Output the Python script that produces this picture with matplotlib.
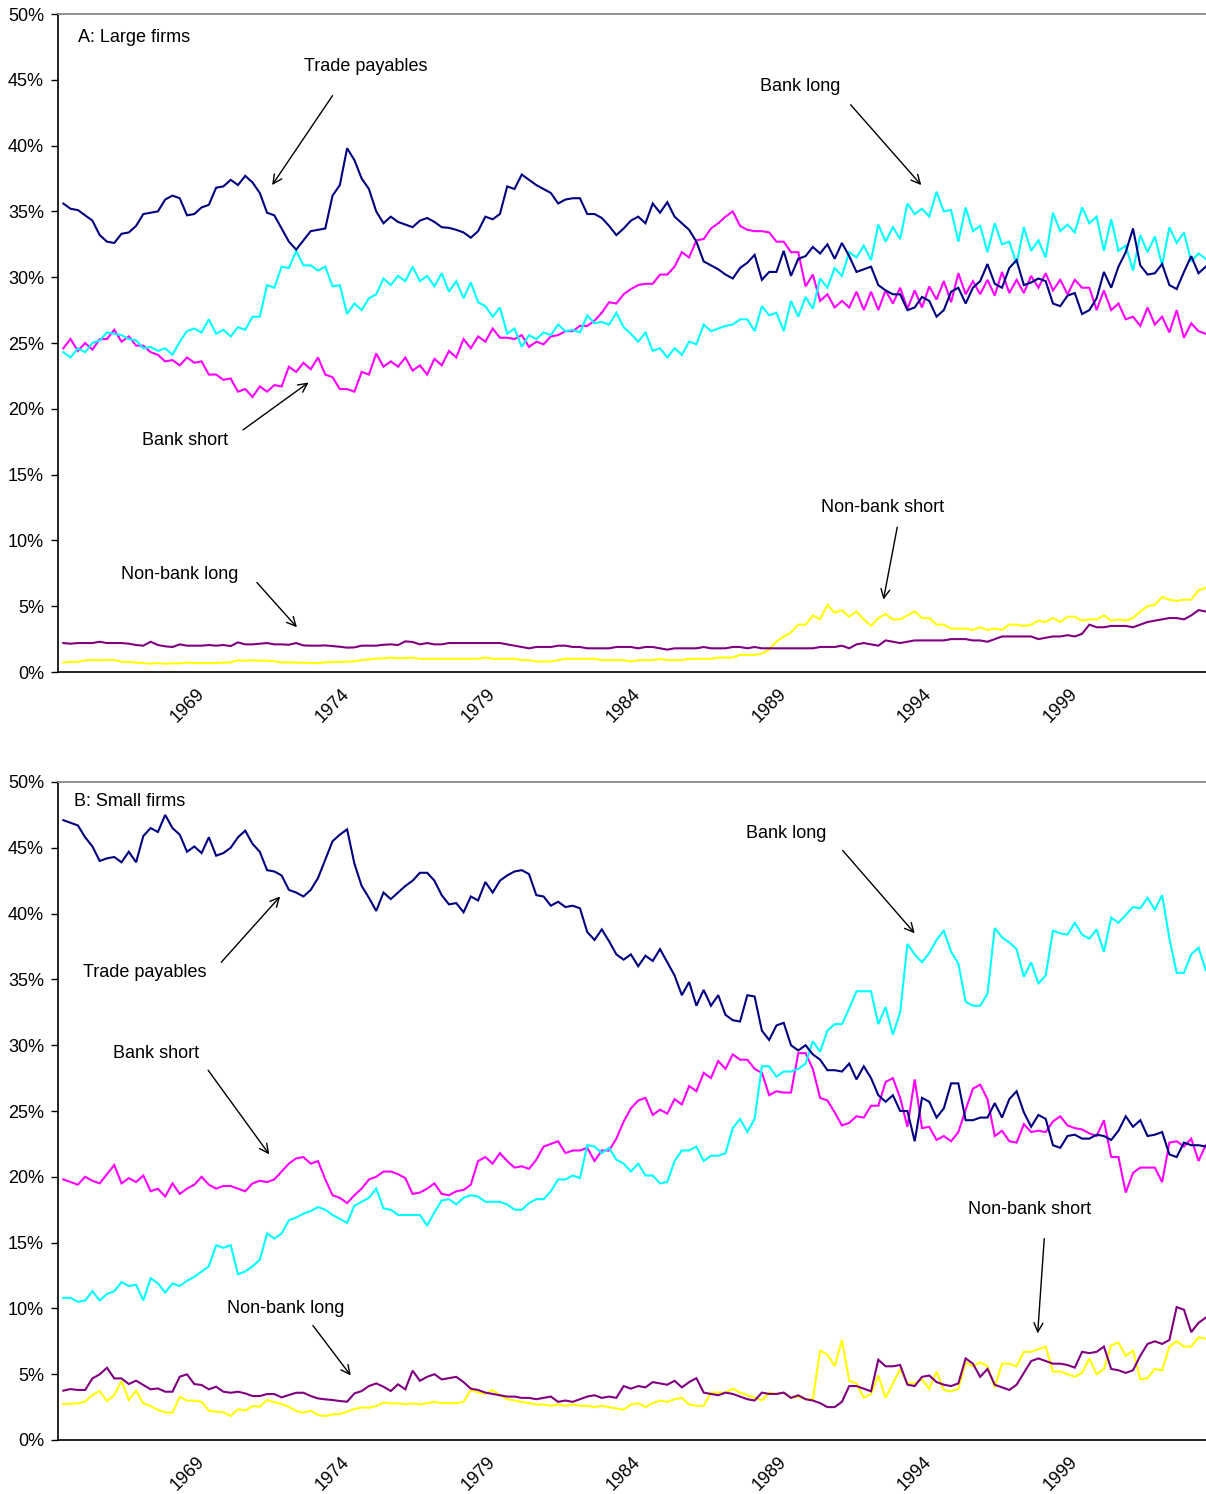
import matplotlib
matplotlib.use("Agg")
import matplotlib.pyplot as plt
from matplotlib.ticker import FixedLocator, FuncFormatter

plt.rcParams["font.family"] = ["Liberation Sans", "DejaVu Sans"]

# Quarterly shares of total debt, first observation 1964Q2
FIRST_YEAR, FIRST_Q = 1964, 2
LABEL_YEARS = [1969, 1974, 1979, 1984, 1989, 1994, 1999]

# ---------------- Panel A: large firms ----------------
large_trade = [
    35.6, 35.2, 35.1, 34.7, 34.3, 33.2, 32.7, 32.6, 33.3, 33.4, 33.9, 34.8, 34.9, 35.0, 35.9, 36.2,
    36.0, 34.7, 34.8, 35.3, 35.5, 36.8, 36.9, 37.4, 37.0, 37.7, 37.2, 36.4, 34.9, 34.7, 33.7, 32.7,
    32.1, 32.8, 33.5, 33.6, 33.7, 36.2, 37.0, 39.8, 38.9, 37.5, 36.7, 35.0, 34.1, 34.6, 34.2, 34.0,
    33.8, 34.3, 34.5, 34.2, 33.8,
    33.75, 33.6, 33.4, 33.0, 33.5, 34.6, 34.4, 34.8, 36.9, 36.7, 37.8, 37.4, 37.0, 36.7, 36.4, 35.6,
    35.9, 36.0, 36.0, 34.8, 34.8, 34.5, 33.9, 33.2, 33.7, 34.3, 34.6, 34.1, 35.6, 34.9, 35.7, 34.6,
    34.1, 33.6, 32.7, 31.2, 30.9, 30.6, 30.2, 29.9, 30.7, 31.1, 31.7, 29.8, 30.4, 30.4, 32.0, 30.1,
    31.4, 31.6, 32.3, 31.8,
    32.5, 31.4, 32.6, 31.6, 30.4, 30.6, 30.8, 29.4, 29.0, 28.7, 28.7, 27.5, 27.7, 28.5, 28.2, 27.0,
    27.5, 28.9, 29.2, 28.0, 29.2, 29.7, 31.0, 29.5, 29.2, 30.7, 31.3, 29.4, 29.6, 29.9, 29.7, 28.0,
    27.8, 28.6, 28.8, 27.2, 27.5, 28.4, 30.4, 29.2, 30.8, 31.9, 33.7, 30.9, 30.2, 30.3, 31.0, 29.4,
    29.1, 30.4, 31.6, 30.3, 30.8,
]
large_bank_long = [
    24.3, 23.9, 24.6, 24.3, 25.0, 25.2, 25.8, 25.7, 25.6, 25.3, 25.2, 24.6, 24.7, 24.4, 24.6, 24.1,
    25.1, 25.9, 26.1, 25.8, 26.8, 25.7, 26.0, 25.5, 26.2, 26.0, 27.0, 27.0, 29.4, 29.2, 30.8, 30.7,
    32.0, 30.9, 30.9, 30.5, 30.8, 29.3, 29.4, 27.2, 28.0, 27.5, 28.4, 28.7, 29.9, 29.4, 30.1, 29.7,
    30.8, 29.7, 30.1, 29.3, 30.3,
    28.9, 29.7, 28.4, 29.6, 28.1, 27.8, 27.0, 27.7, 25.7, 26.1, 24.7, 25.6, 25.3, 25.8, 25.6, 26.4,
    25.9, 26.0, 25.8, 27.1, 26.5, 26.6, 26.4, 27.3, 26.2, 25.7, 25.1, 25.8, 24.4, 24.6, 23.9, 24.6,
    24.1, 25.1, 24.9, 26.4, 25.9, 26.1, 26.3, 26.4, 26.8, 26.8, 25.9, 27.8, 27.1, 27.3, 25.9, 28.2,
    27.0, 28.5, 27.6, 29.9,
    29.2, 30.7, 30.1, 31.9, 31.5, 32.4, 31.3, 34.0, 32.7, 33.8, 32.9, 35.6, 34.8, 35.2, 34.6, 36.5,
    35.0, 35.1, 32.7, 35.3, 33.5, 33.9, 31.9, 34.1, 32.5, 32.7, 31.0, 33.8, 32.0, 32.8, 31.5, 34.9,
    33.5, 34.0, 33.4, 35.3, 34.1, 34.6, 32.0, 34.4, 32.0, 32.4, 30.5, 33.2, 31.9, 33.1, 30.9, 33.8,
    32.6, 33.4, 31.2, 31.8, 31.4,
]
large_bank_short = [
    24.6, 25.3, 24.4, 25.0, 24.5, 25.3, 25.3, 26.0, 25.1, 25.5, 24.8, 24.8, 24.3, 24.1, 23.6, 23.7,
    23.3, 23.9, 23.5, 23.6, 22.6, 22.6, 22.2, 22.3, 21.3, 21.5, 20.9, 21.7, 21.3, 21.8, 21.7, 23.2,
    22.8, 23.5, 23.0, 23.9, 22.6, 22.4, 21.5, 21.5, 21.3, 22.8, 22.6, 24.2, 23.2, 23.6, 23.2, 23.9,
    22.9, 23.3, 22.6, 23.8, 23.3,
    24.4, 23.9, 25.3, 24.6, 25.5, 25.1, 26.1, 25.4, 25.4, 25.3, 25.6, 24.7, 25.1, 24.9, 25.5, 25.6,
    25.9, 25.9, 26.3, 26.3, 26.7, 27.3, 28.1, 28.0, 28.7, 29.1, 29.4, 29.5, 29.5, 30.2, 30.2, 30.8,
    31.9, 31.5, 32.8, 32.9, 33.7, 34.1, 34.6, 35.0, 33.9, 33.6, 33.5, 33.5, 33.4, 32.7, 32.7, 31.9,
    31.9, 29.3, 30.2, 28.2,
    28.7, 27.7, 28.2, 27.7, 28.9, 27.5, 28.9, 27.5, 29.0, 28.0, 29.2, 27.6, 29.0, 27.7, 29.3, 28.3,
    29.7, 28.1, 30.3, 28.7, 29.7, 28.7, 29.8, 28.6, 30.4, 28.8, 29.8, 28.8, 30.1, 29.2, 30.3, 29.0,
    29.8, 28.7, 29.8, 29.2, 29.2, 27.5, 29.0, 27.5, 28.0, 26.8, 27.0, 26.3, 27.7, 26.4, 27.0, 25.8,
    27.5, 25.4, 26.5, 25.9, 25.7,
]
large_nonbank_short = [
    0.73, 0.76, 0.78, 0.89, 0.91, 0.89, 0.91, 0.91, 0.78, 0.76, 0.71, 0.68, 0.63, 0.68, 0.63, 0.66,
    0.66, 0.71, 0.68, 0.68, 0.68, 0.68, 0.71, 0.73, 0.89, 0.86, 0.89, 0.86, 0.86, 0.81, 0.73, 0.73,
    0.71, 0.71, 0.68, 0.68, 0.73, 0.76, 0.76, 0.78, 0.81, 0.91, 0.96, 1.01, 1.04, 1.09, 1.04, 1.06,
    1.09,
    1.0, 1.0, 1.0, 1.0, 1.0, 1.0, 1.0, 1.0, 1.0, 1.1, 1.0, 1.0, 1.0, 1.0, 0.9, 0.9,
    0.8, 0.8, 0.8, 0.9, 1.0, 1.0, 1.0, 1.0, 1.0, 0.9, 0.9, 0.9, 0.9, 0.8, 0.9, 0.9,
    0.9, 1.0, 0.9, 0.9, 0.9, 1.0, 1.0, 1.0, 1.0, 1.1, 1.1, 1.1, 1.3, 1.3, 1.3, 1.4,
    1.7, 2.3, 2.7, 3.0, 3.6, 3.6, 4.3, 4.0, 5.1, 4.5, 4.7, 4.2, 4.6, 4.0, 3.5, 4.1,
    4.4, 4.0, 4.0, 4.3, 4.6, 4.1, 4.1, 3.6, 3.6, 3.3, 3.3, 3.3, 3.2, 3.4, 3.2, 3.3,
    3.2, 3.6, 3.6, 3.5, 3.6, 3.9, 3.8, 4.1, 3.8, 4.2, 4.2, 3.9, 4.0, 4.0, 4.3, 3.9,
    4.0, 3.9, 4.1, 4.6, 5.0, 5.1, 5.7, 5.5, 5.4, 5.5, 5.5, 6.2, 6.4,
]
large_nonbank_long = [
    2.2, 2.15, 2.2, 2.2, 2.2, 2.3, 2.2, 2.2, 2.2, 2.15, 2.05, 2.0, 2.3, 2.05, 1.95, 1.9,
    2.1, 2.0, 2.0, 2.0, 2.05, 2.0, 2.05, 1.97, 2.25, 2.1, 2.1, 2.15, 2.2, 2.1, 2.1, 2.07,
    2.2, 2.02, 2.0, 2.0, 2.02, 1.97, 1.92, 1.85, 1.87, 2.0, 2.0, 2.0, 2.07, 2.1, 2.05, 2.33,
    2.28,
    2.1, 2.2, 2.1, 2.1, 2.2, 2.2, 2.2, 2.2, 2.2, 2.2, 2.2, 2.2, 2.1, 2.0, 1.9, 1.8,
    1.9, 1.9, 1.9, 2.0, 2.0, 1.9, 1.9, 1.8, 1.8, 1.8, 1.8, 1.9, 1.9, 1.9, 1.8, 1.9,
    1.9, 1.8, 1.7, 1.8, 1.8, 1.8, 1.8, 1.9, 1.8, 1.8, 1.8, 1.9, 1.9, 1.8, 1.9, 1.8,
    1.8, 1.8, 1.8, 1.8, 1.8, 1.8, 1.8, 1.9, 1.9, 1.9, 2.0, 1.8, 2.1, 2.2, 2.1,
    2.0, 2.4, 2.3, 2.2, 2.3, 2.4, 2.4, 2.4, 2.4, 2.4, 2.5, 2.5, 2.5, 2.4, 2.4, 2.3,
    2.5, 2.7, 2.7, 2.7, 2.7, 2.7, 2.5, 2.6, 2.7, 2.7, 2.8, 2.7, 2.9, 3.6, 3.4, 3.4,
    3.5, 3.5, 3.5, 3.4, 3.6, 3.8, 3.9, 4.0, 4.1, 4.1, 4.0, 4.3, 4.7, 4.6,
]

# ---------------- Panel B: small firms ----------------
small_trade = [
    47.1, 46.9, 46.7, 45.8, 45.1, 44.0, 44.2, 44.3, 43.9, 44.7, 43.9, 45.9, 46.5, 46.2, 47.5, 46.5,
    46.0, 44.7, 45.1, 44.6, 45.8, 44.4, 44.6, 45.0, 45.8, 46.3, 45.3, 44.7, 43.3, 43.2, 42.9, 41.8,
    41.6, 41.3, 41.8, 42.7, 44.1, 45.5, 46.0, 46.4, 43.8, 42.1, 41.2, 40.2, 41.6, 41.1, 41.6, 42.1,
    42.5, 43.1, 43.1, 42.5, 41.4,
    40.7, 40.8, 40.1, 41.3, 41.0, 42.4, 41.6, 42.5, 42.9, 43.2, 43.3, 43.0, 41.4, 41.3, 40.6, 40.9,
    40.5, 40.6, 40.4, 38.6, 38.0, 38.8, 37.9, 36.9, 36.5, 36.9, 36.0, 36.8, 36.4, 37.3, 36.3, 35.3,
    33.8, 34.8, 33.0, 34.2, 33.0, 33.8, 32.3, 31.9, 31.8, 33.8, 33.7, 31.1, 30.4, 31.5, 31.7, 30.0,
    29.6, 30.0, 29.3,
    28.9, 28.1, 28.1, 28.0, 28.6, 27.4, 28.4, 27.5, 26.2, 25.7, 26.2, 25.0, 25.0, 22.7, 26.0, 25.7,
    24.5, 25.2, 27.1, 27.1, 24.3, 24.3, 24.5, 24.5, 25.6, 24.5, 25.9, 26.5, 24.9, 23.8, 24.7, 24.4,
    22.4, 22.2, 23.1, 23.2, 22.9, 22.9, 23.2, 23.1, 22.8, 23.5, 24.6, 23.8, 24.3, 23.1, 23.2, 23.4,
    21.7, 21.5, 22.6, 22.4, 22.4, 22.3,
]
small_bank_long = [
    10.8, 10.8, 10.5, 10.6, 11.3, 10.6, 11.1, 11.3, 12.0, 11.7, 11.8, 10.6, 12.3, 11.9, 11.2, 11.9,
    11.7, 12.1, 12.4, 12.8, 13.2, 14.8, 14.6, 14.8, 12.6, 12.8, 13.2, 13.7, 15.7, 15.3, 15.7, 16.7,
    16.9, 17.2, 17.4, 17.7, 17.5, 17.1, 16.8, 16.5, 17.8, 18.1, 18.4, 19.1, 17.6, 17.5, 17.1, 17.1,
    17.1, 17.1, 16.3, 17.3, 18.2,
    18.3, 17.9, 18.4, 18.6, 18.5, 18.1, 18.1, 18.1, 17.9, 17.5, 17.5, 18.0, 18.3, 18.3, 18.9, 19.8,
    19.8, 20.1, 19.9, 22.4, 22.3, 21.8, 22.2, 21.3, 21.0, 20.4, 21.0, 20.1, 20.1, 19.5, 19.6, 21.2,
    22.0, 22.0, 22.3, 21.2, 21.6, 21.6, 21.8, 23.7, 24.4, 23.4, 24.4, 28.4, 28.4, 27.6, 28.0, 28.0,
    28.2, 28.6, 30.3,
    29.5, 31.1, 31.6, 31.6, 32.8, 34.1, 34.1, 34.1, 31.6, 32.9, 30.8, 32.5, 37.7, 36.9, 36.3, 37.0,
    38.0, 38.7, 37.1, 36.2, 33.3, 33.0, 33.0, 33.9, 38.9, 38.2, 37.8, 37.3, 35.2, 36.3, 34.7, 35.3,
    38.7, 38.5, 38.4, 39.3, 38.4, 38.1, 38.8, 37.1, 39.7, 39.3, 39.9, 40.5, 40.4, 41.2, 40.3, 41.4,
    38.1, 35.5, 35.5, 36.9, 37.4, 35.7,
]
small_bank_short = [
    19.8, 19.6, 19.4, 20.0, 19.7, 19.5, 20.2, 20.9, 19.5, 19.9, 19.6, 20.1, 18.9, 19.1, 18.5, 19.5,
    18.7, 19.1, 19.4, 20.0, 19.4, 19.1, 19.3, 19.3, 19.1, 18.9, 19.5, 19.7, 19.6, 19.8, 20.4, 21.0,
    21.4, 21.5, 21.0, 21.2, 19.8, 18.6, 18.4, 18.0, 18.6, 19.1, 19.8, 20.0, 20.4, 20.4, 20.2, 19.9,
    18.7, 18.8, 19.1, 19.5, 18.7,
    18.6, 18.9, 19.0, 19.4, 21.2, 21.5, 21.0, 21.8, 21.2, 20.7, 20.8, 20.6, 21.3, 22.3, 22.5, 22.7,
    21.8, 22.0, 22.0, 22.2, 21.2, 22.0, 22.0, 22.9, 24.2, 25.2, 25.8, 26.0, 24.7, 25.1, 24.8, 25.9,
    25.5, 26.9, 26.5, 27.9, 27.5, 28.8, 28.2, 29.3, 28.9, 28.9, 28.2, 27.9, 26.2, 26.5, 26.4, 26.4,
    29.4, 29.4, 28.2,
    26.0, 25.8, 24.9, 23.9, 24.1, 24.6, 24.5, 25.4, 25.4, 27.2, 27.5, 26.0, 23.8, 27.4, 23.7, 23.8,
    22.8, 23.1, 22.7, 23.4, 25.1, 26.7, 27.0, 25.9, 23.1, 23.5, 22.7, 22.6, 24.0, 23.4, 23.5, 23.4,
    24.2, 24.6, 23.9, 23.7, 23.6, 23.3, 23.1, 24.3, 21.5, 21.5, 18.8, 20.3, 20.7, 20.7, 20.7, 19.6,
    22.6, 22.7, 22.3, 22.9, 21.2, 22.4,
]
small_nonbank_short = [
    2.73, 2.76, 2.78, 2.91, 3.42, 3.72, 2.96, 3.42, 4.48, 3.04, 3.75, 2.78, 2.58, 2.28, 2.10, 2.08,
    3.29, 2.99, 2.99, 2.91, 2.23, 2.15, 2.10, 1.82, 2.33, 2.23, 2.58, 2.53, 3.04, 2.86, 2.73, 2.53,
    2.20, 2.08, 2.23, 1.90, 1.82, 1.95, 1.97, 2.15, 2.35, 2.48, 2.46, 2.58, 2.84, 2.78, 2.78, 2.71,
    2.78,
    2.7, 2.8, 2.9, 2.8, 2.8, 2.8, 2.9, 3.8, 3.6, 3.5, 3.8, 3.4, 3.1, 3.0, 2.9, 2.8,
    2.7, 2.7, 2.6, 2.7, 2.6, 2.7, 2.6, 2.6, 2.5, 2.6, 2.5, 2.4, 2.3, 2.7, 2.8, 2.5,
    2.8, 3.0, 2.9, 3.1, 3.2, 2.7, 2.6, 2.6, 3.6, 3.6, 3.6, 3.9, 3.6, 3.4, 3.2, 3.0,
    3.6, 3.5, 3.6, 3.2, 3.3,
    3.1, 3.1, 6.8, 6.5, 5.6, 7.6, 4.5, 4.3, 3.2, 3.5, 4.9, 3.2, 4.3, 5.4, 4.3, 4.3,
    4.6, 3.9, 5.2, 3.8, 3.7, 3.9, 5.9, 5.6, 5.9, 5.6, 4.0, 5.8, 5.8, 5.6, 6.7, 6.7,
    6.9, 7.1, 5.2, 5.2, 5.0, 4.8, 5.1, 6.2, 5.0, 5.4, 7.2, 7.4, 6.4, 6.8, 4.6, 4.7,
    5.4, 5.3, 7.1, 7.5, 7.1, 7.1, 7.8, 7.7,
]
small_nonbank_long = [
    3.75, 3.87, 3.80, 3.80, 4.68, 4.99, 5.49, 4.68, 4.68, 4.25, 4.51, 4.18, 3.85, 3.92, 3.67, 3.67,
    4.81, 4.99, 4.25, 4.18, 3.85, 4.05, 3.67, 3.59, 3.67, 3.54, 3.34, 3.34, 3.49, 3.49, 3.24, 3.42,
    3.59, 3.59, 3.34, 3.16, 3.09, 3.04, 2.96, 2.91, 3.54, 3.72, 4.10, 4.30, 4.05, 3.72, 4.23, 3.85,
    5.27,
    4.5, 4.8, 5.0, 4.6, 4.7, 4.8, 4.4, 3.9, 3.8, 3.6, 3.5, 3.4, 3.3, 3.3, 3.2, 3.2,
    3.1, 3.2, 3.3, 2.9, 3.0, 2.9, 3.1, 3.3, 3.4, 3.2, 3.3, 3.2, 4.1, 3.9, 4.1, 4.0,
    4.4, 4.3, 4.2, 4.5, 4.0, 4.4, 4.7, 3.6, 3.5, 3.4, 3.6, 3.5, 3.3, 3.1, 3.0, 3.6,
    3.5, 3.5, 3.6, 3.2, 3.4,
    3.1, 3.0, 2.8, 2.5, 2.5, 2.9, 4.1, 4.1, 3.9, 3.7, 6.1, 5.6, 5.6, 5.7, 4.2, 4.1,
    4.8, 4.9, 4.4, 4.2, 4.1, 4.3, 6.2, 5.8, 4.8, 5.4, 4.2, 4.0, 3.8, 4.2, 5.1, 6.0,
    6.2, 6.0, 5.8, 5.8, 5.7, 5.5, 6.7, 6.6, 6.7, 7.1, 5.4, 5.3, 5.1, 5.3, 6.4, 7.3,
    7.5, 7.3, 7.6, 10.1, 9.9, 8.2, 8.9, 9.3,
]

COLORS = {
    "Trade payables": "#000080",
    "Bank long": "#00FFFF",
    "Bank short": "#FF00FF",
    "Non-bank short": "#FFFF00",
    "Non-bank long": "#800080",
}

FS = 13
W, H = 1206, 1494


def quarter_labels(n):
    labels = []
    for i in range(n):
        k = FIRST_Q - 1 + i
        year, q = FIRST_YEAR + k // 4, k % 4 + 1
        labels.append(str(year) if (q == 1 and year in LABEL_YEARS) else "")
    return labels


def draw_panel(ax, series, title, notes):
    n = len(series[0][1])
    x = list(range(n))
    for name, vals in series:
        ax.plot(x, vals, color=COLORS[name], lw=1.5, solid_joinstyle="miter")

    ax.set_xlim(-0.73, n - 1 + 0.03)
    ax.set_ylim(0, 50)
    labels = quarter_labels(n)
    pos = [i for i, s in enumerate(labels) if s]
    ax.set_xticks(pos)
    ax.set_xticklabels([labels[i] for i in pos], rotation=45, ha="right", va="center",
                       rotation_mode="anchor", fontsize=FS)
    ax.tick_params(axis="x", length=0, pad=14)
    ax.yaxis.set_major_locator(FixedLocator(range(0, 51, 5)))
    ax.yaxis.set_major_formatter(FuncFormatter(lambda v, _: f"{v:.0f}%"))
    ax.tick_params(axis="y", length=5, width=1, direction="out", pad=5, labelsize=FS)

    for side in ("left", "bottom"):
        ax.spines[side].set_color("black")
        ax.spines[side].set_linewidth(1.2)
    ax.spines["top"].set_color("#808080")
    ax.spines["top"].set_linewidth(1.2)
    ax.spines["right"].set_visible(False)

    ax.text(title[1], title[2], title[0], fontsize=FS, ha="left", va="center")
    for text, txy, tail, head in notes:
        ax.text(txy[0], txy[1], text, fontsize=FS, ha="center", va="center")
        ax.annotate("", xy=head, xytext=tail,
                    arrowprops=dict(arrowstyle="->", lw=1.0, color="black",
                                    mutation_scale=16, shrinkA=0, shrinkB=0))


fig = plt.figure(figsize=(W / 100, H / 100), dpi=100)
ax_a = fig.add_axes([58 / W, 1 - 672 / H, 1148 / W, 658 / H])
ax_b = fig.add_axes([58 / W, 1 - 1440 / H, 1148 / W, 658 / H])

draw_panel(
    ax_a,
    [("Non-bank short", large_nonbank_short), ("Non-bank long", large_nonbank_long),
     ("Bank short", large_bank_short), ("Bank long", large_bank_long),
     ("Trade payables", large_trade)],
    ("A: Large firms", 2.0, 48.25),
    [("Trade payables", (41.6, 46.0), (37.0, 43.8), (28.7, 37.0)),
     ("Bank long", (101.2, 44.5), (108.2, 43.1), (117.9, 37.0)),
     ("Bank short", (16.7, 17.6), (24.7, 18.4), (33.7, 22.0)),
     ("Non-bank short", (112.6, 12.5), (114.6, 11.0), (112.7, 5.5)),
     ("Non-bank long", (16.0, 7.4), (26.6, 6.8), (32.1, 3.4))],
)

draw_panel(
    ax_b,
    [("Non-bank short", small_nonbank_short), ("Non-bank long", small_nonbank_long),
     ("Bank short", small_bank_short), ("Bank long", small_bank_long),
     ("Trade payables", small_trade)],
    ("B: Small firms", 1.5, 48.5),
    [("Bank long", (99.4, 46.1), (107.1, 44.8), (117.0, 38.5)),
     ("Trade payables", (11.2, 35.5), (21.7, 36.3), (29.8, 41.3)),
     ("Bank short", (12.7, 29.4), (19.9, 28.1), (28.3, 21.7)),
     ("Non-bank short", (132.8, 17.5), (134.8, 15.3), (133.9, 8.1)),
     ("Non-bank long", (30.5, 10.0), (34.3, 8.7), (39.5, 4.9))],
)

fig.savefig("out.png", dpi=100)
